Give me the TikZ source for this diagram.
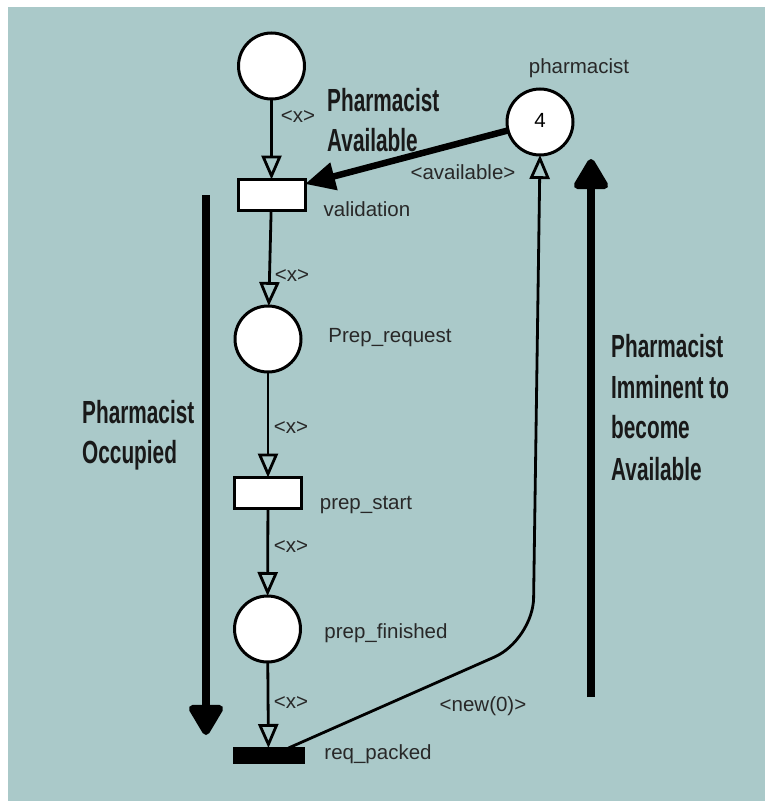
\documentclass[tikz,border=0pt]{standalone}
\usepackage{fontspec}
\setmainfont{Liberation Sans}
\newfontfamily\condfont[FakeStretch=0.65]{Liberation Sans}
\usetikzlibrary{arrows.meta}
\definecolor{bgteal}{RGB}{170,201,201}
\definecolor{labgray}{RGB}{40,40,40}
\begin{document}
\begin{tikzpicture}[x=1pt,y=-1pt,
  place/.style={circle,draw=black,fill=white,line width=3pt,minimum size=66pt,inner sep=0pt,outer sep=0pt},
  trans/.style={rectangle,draw=black,fill=white,line width=3pt,minimum width=67pt,minimum height=31pt,inner sep=0pt,outer sep=0pt},
  arc/.style={line width=2.8pt,-{Triangle[open,length=24pt,width=20pt]}},
  lab/.style={font=\fontsize{20.5}{24}\selectfont,text=labgray,inner sep=0pt,text height=15pt,text depth=4pt},
  big/.style={font=\condfont\bfseries\fontsize{32}{40}\selectfont,text=black!90,anchor=base west,inner sep=0pt},
  bigarrow/.style={line width=7.5pt,-{Triangle[length=34pt,width=38pt,round]}}]
\useasboundingbox (0,0) rectangle (765,803);
\fill[white] (0,0) rectangle (765,803);
\fill[bgteal] (8,7) rectangle (765,801);

% places and transitions
\node[place] (p0) at (271.5,66) {};
\node[trans] (val) at (271.5,195) {};
\node[place,lab,text=black] (ph) at (540,122) {4};
\node[place] (preq) at (268,339) {};
\node[trans] (pst) at (268,493) {};
\node[place] (pfin) at (267.5,629) {};
\node[trans,fill=black,minimum width=69pt,minimum height=14pt] (rp) at (268.5,755) {};

% arcs
\draw[arc] (p0) -- (val);
\draw[arc] (val) -- (preq);
\draw[arc] (preq) -- (pst);
\draw[arc] (pst) -- (pfin);
\draw[arc] (pfin) -- (rp);
\draw[line width=6.5pt,-{Triangle[length=30pt,width=27pt]}] (ph) -- ([yshift=11pt]val.east);
\coordinate (bend) at (533,640);
\draw[arc,rounded corners=42pt] ([xshift=20pt]rp.north) -- (bend) -- (ph.south);

% big annotation arrows
\coordinate (occTop) at (206,195);
\coordinate (occBot) at (206,735);
\draw[bigarrow] (occTop) -- (occBot);
\coordinate (immBot) at (591,697);
\coordinate (immTop) at (591,159);
\draw[bigarrow] (immBot) -- (immTop);

% labels
\node[lab] (l1) at (298,117) {<x>};
\node[lab] (lval) at (367,211) {validation};
\node[lab] (lph) at (579,68) {pharmacist};
\node[lab] (lav) at (463,174) {<available>};
\node[lab] (l2) at (292,276) {<x>};
\node[lab] (lpreq) at (390,337) {Prep\_request};
\node[lab] (l3) at (291,428) {<x>};
\node[lab] (lpst) at (366,504) {prep\_start};
\node[lab] (l4) at (291,547) {<x>};
\node[lab] (lpfin) at (386,633) {prep\_finished};
\node[lab] (l5) at (291,703) {<x>};
\node[lab] (lrp) at (378,754) {req\_packed};
\node[lab] (lnew) at (483,706) {<new(0)>};

% bold annotations
\node[big] (pa1) at (327,111) {Pharmacist};
\node[big] (pa2) at (327,151) {Available};
\node[big] (po1) at (82,423) {Pharmacist};
\node[big] (po2) at (82,463) {Occupied};
\node[big] (pi1) at (611,357) {Pharmacist};
\node[big] (pi2) at (611,398) {Imminent to};
\node[big] (pi3) at (611,438) {become};
\node[big] (pi4) at (611,480) {Available};
\end{tikzpicture}
\end{document}
